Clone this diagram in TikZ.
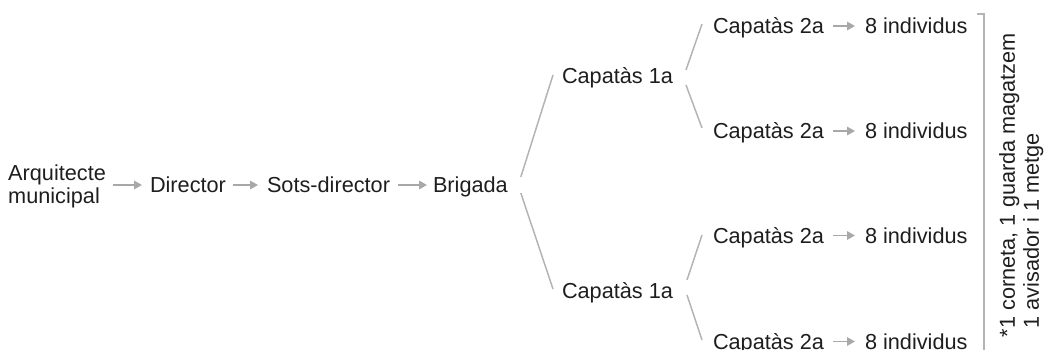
\documentclass[tikz,border=0pt]{standalone}
\usepackage{fontspec}
\setmainfont{Liberation Sans}
\usetikzlibrary{arrows.meta,calc}
\definecolor{txt}{HTML}{1E1E1E}
\definecolor{linegray}{HTML}{B4B4B4}
\definecolor{arrgray}{HTML}{A8A8A8}
\begin{document}
\begin{tikzpicture}[x=1pt,y=-1pt,
  lbl/.style={font=\fontsize{21.7}{23.5}\selectfont, inner sep=0pt, outer sep=0pt,
    text height=15.5pt, text depth=0pt, anchor=west, text=txt},
  arr/.style={draw=arrgray, line width=1.6pt,
    -{Triangle[length=8pt,width=8.5pt]}},
  branch/.style={draw=linegray, line width=1.5pt},
  bracket/.style={draw=linegray, line width=1.5pt}]
\useasboundingbox (0,0) rectangle (1044,350);
\clip (0,0) rectangle (1044,350);

% nodes
\node[font=\fontsize{21.7}{23.2}\selectfont, inner sep=0pt, anchor=base west,
      align=left, text=txt] (arq) at (8,203.5) {Arquitecte\\municipal};
\node[lbl] (dir)  at (150,185) {Director};
\node[lbl] (sots) at (267,185) {Sots-director};
\node[lbl] (brig) at (433,185) {Brigada};
\node[lbl] (c1u) at (562,75.5) {Capatàs 1a};
\node[lbl] (c1l) at (562,291) {Capatàs 1a};
\node[lbl] (c2a) at (713,26) {Capatàs 2a};
\node[lbl] (c2b) at (713,131) {Capatàs 2a};
\node[lbl] (c2c) at (713,235.5) {Capatàs 2a};
\node[lbl] (c2d) at (713,341.5) {Capatàs 2a};
\node[lbl] (i1) at (865,26) {8 individus};
\node[lbl] (i2) at (865,131) {8 individus};
\node[lbl] (i3) at (865,235.5) {8 individus};
\node[lbl] (i4) at (865,341.5) {8 individus};

% rotated note
\node[lbl, rotate=90] (n1) at (1007,328.6) {\llap{*}1 corneta, 1 guarda magatzem};
\node[lbl, rotate=90] (n2) at (1031,328.6) {1 avisador i 1 metge};

% arrows
\draw[arr, shorten <=7pt, shorten >=8pt] (arq.east |- dir.west) -- (dir.west);
\draw[arr, shorten <=7pt, shorten >=9pt] (dir.east) -- (sots.west);
\draw[arr, shorten <=8pt, shorten >=6pt] (sots.east) -- (brig.west);
\foreach \a/\b in {c2a/i1, c2b/i2, c2c/i3, c2d/i4}
  \draw[arr, shorten <=9pt, shorten >=10pt] (\a.east) -- (\b.west);

% branches
\draw[branch] ($(brig.east)+(13,-8)$) -- ($(c1u.west)+(-9,-0.5)$);
\draw[branch] ($(brig.east)+(13,8)$) -- ($(c1l.west)+(-9,-2)$);
\draw[branch] ($(c1u.east)+(13,-5.5)$) -- ($(c2a.west)+(-11,-2)$);
\draw[branch] ($(c1u.east)+(13,9.5)$) -- ($(c2b.west)+(-11,-3)$);
\draw[branch] ($(c1l.east)+(14,-11)$) -- ($(c2c.west)+(-11,-0.5)$);
\draw[branch] ($(c1l.east)+(14,4)$) -- ($(c2d.west)+(-11,-1.5)$);

% bracket
\coordinate (btick) at (977,14);
\coordinate (btop) at (984,14);
\coordinate (bbot) at (984,355);
\draw[bracket] (btick) -- (btop) -- (bbot);
\end{tikzpicture}
\end{document}
